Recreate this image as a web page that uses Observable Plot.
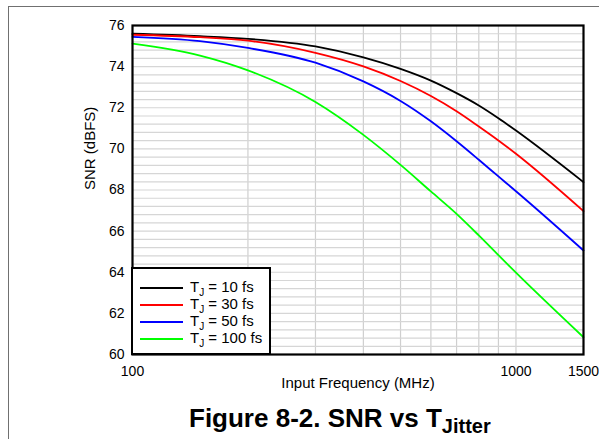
<!DOCTYPE html>
<html>
<head>
<meta charset="utf-8">
<script src="https://cdn.jsdelivr.net/npm/d3@7"></script>
<script src="https://cdn.jsdelivr.net/npm/@observablehq/plot@0.6"></script>
<style>
  html, body { margin: 0; padding: 0; background: #fff; }
  body { width: 599px; height: 439px; overflow: hidden; position: relative; font-family: "Liberation Sans", Arial, sans-serif; }
  #outer { position: absolute; left: 8px; top: 6px; width: 620px; height: 460px; border: 1px solid #707070; box-sizing: border-box; }
  #chart { position: absolute; left: 0; top: 0; }
  #legend { position: absolute; left: 131px; top: 267px; width: 140px; height: 88px; box-sizing: border-box; border: 2px solid #000; background: #fff; }
  .row { position: absolute; left: 0; height: 17px; width: 136px; }
  .sw { position: absolute; left: 7px; top: 8px; width: 43px; height: 2px; }
  .lt { position: absolute; left: 57px; top: -1px; font-size: 15px; line-height: 17px; color: #000; white-space: nowrap; }
  .lt sub { font-size: 10px; vertical-align: baseline; position: relative; top: 4px; line-height: 0; }
  #title { position: absolute; left: 189px; top: 405px; font-size: 26px; font-weight: bold; line-height: 26px; white-space: nowrap; color: #000; }
  #title sub { font-size: 20px; vertical-align: baseline; position: relative; top: 6px; line-height: 0; }
</style>
</head>
<body>
<div id="outer"></div>
<div id="chart"></div>
<div id="legend"></div>
<div id="title">Figure 8-2. SNR vs T<sub>Jitter</sub></div>
<script>
// Input frequency (MHz)
const freqs = [100, 150, 200, 300, 400, 500, 600, 700, 800, 900, 1000, 1500];
// SNR (dBFS) for each clock jitter value
const snr10fs  = [75.60, 75.48, 75.35, 74.98, 74.45, 73.89, 73.32, 72.71, 72.11, 71.49, 70.89, 68.38];
const snr30fs  = [75.55, 75.43, 75.26, 74.67, 74.01, 73.30, 72.57, 71.83, 71.09, 70.41, 69.76, 66.97];
const snr50fs  = [75.45, 75.24, 74.91, 74.19, 73.28, 72.33, 71.34, 70.37, 69.47, 68.66, 67.94, 65.06];
const snr100fs = [75.12, 74.54, 73.82, 72.28, 70.68, 69.22, 67.93, 66.84, 65.79, 64.83, 63.98, 60.84];
const jitterValues = ["10", "30", "50", "100"];
const seriesColors = ["#000000", "#ff0000", "#0000ff", "#00ff00"];
const yTicks = [60, 62, 64, 66, 68, 70, 72, 74, 76];
const xTicks = [100, 1000, 1500];
const xGrid = [200, 300, 400, 500, 600, 700, 800, 900, 1000];
const yGrid = d3.range(1, 40).map(i => 60 + i * 0.4);

const allSeries = [snr10fs, snr30fs, snr50fs, snr100fs];
const rows = [];
allSeries.forEach((vals, s) => {
  vals.forEach((v, i) => rows.push({f: freqs[i], snr: v, series: jitterValues[s]}));
});

const chart = Plot.plot({
  width: 599,
  height: 400,
  marginLeft: 132,
  marginRight: 16,
  marginTop: 25,
  marginBottom: 46,
  style: {fontFamily: '"Liberation Sans", Arial, sans-serif', background: "transparent", color: "#000"},
  x: {type: "log", domain: [100, 1500]},
  y: {domain: [60, 76]},
  color: {domain: jitterValues, range: seriesColors},
  marks: [
    Plot.ruleX(xGrid, {stroke: "#cfcfcf", strokeWidth: 1.2}),
    Plot.ruleY(yGrid, {stroke: "#d6d6d6", strokeWidth: 1.2}),
    Plot.line(rows, {x: "f", y: "snr", z: "series", stroke: "series", strokeWidth: 1.8, curve: "monotone-x"}),
    Plot.frame({stroke: "#000", strokeWidth: 2.2}),
    Plot.axisY({ticks: yTicks, tickSize: 0, tickPadding: 8, fontSize: 14, label: null}),
    Plot.axisX({ticks: xTicks, tickFormat: d => String(d), tickSize: 0, tickPadding: 12, fontSize: 14, label: null}),
    Plot.text(["Input Frequency (MHz)"], {frameAnchor: "bottom", dy: 33, fontSize: 15, fill: "#000"}),
    Plot.text(["SNR (dBFS)"], {frameAnchor: "left", dx: -42, rotate: -90, fontSize: 15, fill: "#000"})
  ]
});
document.getElementById("chart").appendChild(chart);

const legend = document.getElementById("legend");
jitterValues.forEach((j, i) => {
  const row = document.createElement("div");
  row.className = "row";
  row.style.top = (10 + i * 17) + "px";
  const sw = document.createElement("div");
  sw.className = "sw";
  sw.style.background = seriesColors[i];
  const t = document.createElement("div");
  t.className = "lt";
  t.innerHTML = "T<sub>J</sub> = " + j + " fs";
  row.appendChild(sw);
  row.appendChild(t);
  legend.appendChild(row);
});
</script>
</body>
</html>
